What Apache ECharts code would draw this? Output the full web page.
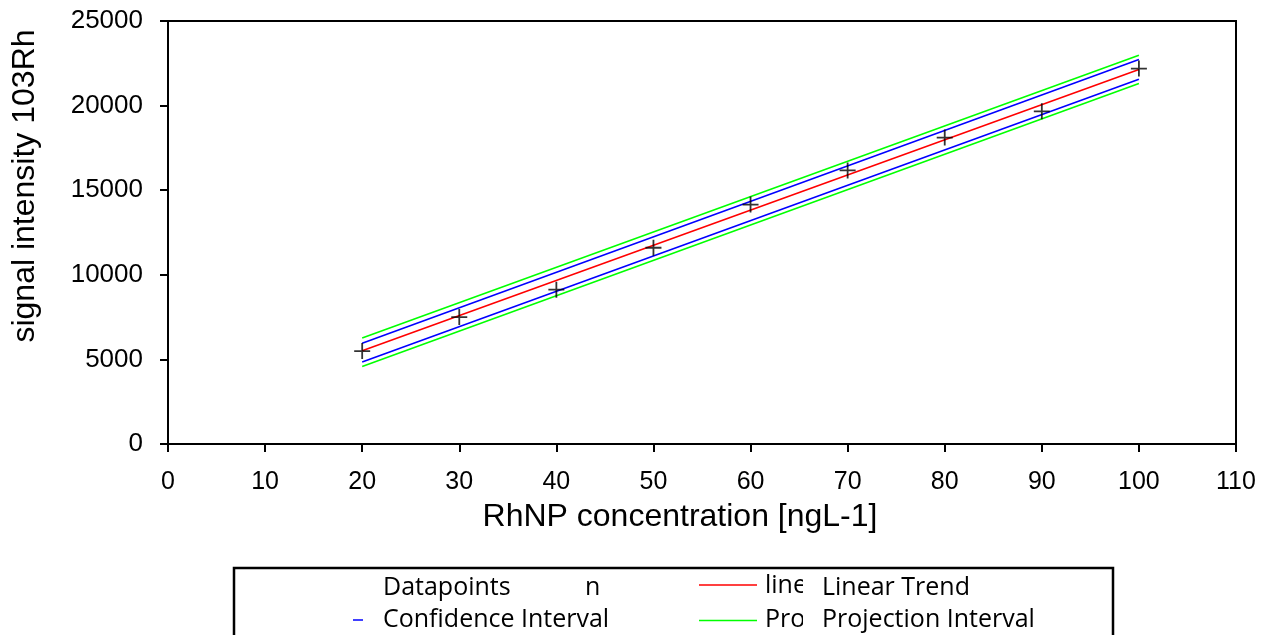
<!DOCTYPE html>
<html>
<head>
<meta charset="utf-8">
<script src="https://cdn.jsdelivr.net/npm/echarts@6/dist/echarts.min.js"></script>
<style>
html,body{margin:0;padding:0;background:#fff;}
#chart{width:1261px;height:635px;}
</style>
</head>
<body>
<div id="chart"></div>
<script>
// ---- data ----
const concentrations = [20, 30, 40, 50, 60, 70, 80, 90, 100];
const signalValues   = [5490, 7500, 9120, 11600, 14150, 16170, 18110, 19660, 22190];
const lineX          = [20, 100];
const linearTrend    = [5510, 22130];
const confUpper      = [5960, 22720];
const confLower      = [4840, 21555];
const projUpper      = [6260, 22975];
const projLower      = [4585, 21300];
const xTickMin = 0, xTickMax = 110, xTickStep = 10;
const yTickMin = 0, yTickMax = 25000, yTickStep = 5000;
const xTitle = 'RhNP concentration [ngL-1]';
const yTitle = 'signal intensity 103Rh';
const legendLabels = ['Datapoints', 'Linear Trend', 'Confidence Interval', 'Projection Interval'];

const pairs = (xs, ys) => xs.map((x, i) => [x, ys[i]]);
const chart = echarts.init(document.getElementById('chart'), null, {renderer: 'canvas'});
const FONT = 'Liberation Sans, Arial, sans-serif';
const LFONT = 'Open Sans, Noto Sans, sans-serif';

function lineSeries(name, ys, color) {
  return {
    name: name, type: 'line', data: pairs(lineX, ys), symbol: 'none',
    lineStyle: {color: color, width: 1.6}, silent: true, animation: false
  };
}

const option = {
  animation: false,
  backgroundColor: '#fff',
  grid: {left: 168, right: 25, top: 21, bottom: 191, show: true, borderColor: '#000', borderWidth: 2, backgroundColor: 'transparent'},
  xAxis: {
    type: 'value', min: xTickMin, max: xTickMax, interval: xTickStep,
    axisLine: {show: true, lineStyle: {color: '#000', width: 2}},
    axisTick: {show: true, inside: false, length: 8, lineStyle: {color: '#000', width: 2}},
    axisLabel: {color: '#000', fontSize: 25, fontFamily: FONT, margin: 26, formatter: v => String(v)},
    splitLine: {show: false}
  },
  yAxis: {
    type: 'value', min: yTickMin, max: yTickMax, interval: yTickStep,
    axisLine: {show: true, lineStyle: {color: '#000', width: 2}},
    axisTick: {show: true, inside: false, length: 8, lineStyle: {color: '#000', width: 2}},
    axisLabel: {color: '#000', fontSize: 26, fontFamily: FONT, margin: 25, formatter: v => String(v)},
    splitLine: {show: false}
  },
  series: [
    lineSeries('Projection Interval', projUpper, '#00ff00'),
    lineSeries('Projection Interval', projLower, '#00ff00'),
    lineSeries('Confidence Interval', confUpper, '#0000ff'),
    lineSeries('Confidence Interval', confLower, '#0000ff'),
    lineSeries('Linear Trend', linearTrend, '#ff0000'),
    {
      name: 'Datapoints', type: 'scatter', data: pairs(concentrations, signalValues),
      symbol: 'path://M0,8 L16,8 M8,0 L8,16', symbolSize: 16,
      itemStyle: {color: 'none', borderColor: '#000', borderWidth: 1.8},
      z: 5
    }
  ],
  graphic: [
    {type: 'text', x: 680, y: 517, style: {text: xTitle, font: '32px ' + FONT, fill: '#000', align: 'center', verticalAlign: 'middle'}},
    {type: 'text', x: 25, y: 186, rotation: Math.PI / 2, style: {text: yTitle, font: '32px ' + FONT, fill: '#000', align: 'center', verticalAlign: 'middle'}},
    // legend box
    {type: 'rect', shape: {x: 234, y: 568, width: 879, height: 100}, style: {fill: '#fff', stroke: '#000', lineWidth: 2.5}},
    {type: 'text', x: 383, y: 588, style: {text: legendLabels[0], font: '25px ' + LFONT, fill: '#000', verticalAlign: 'middle'}},
    {type: 'text', x: 585, y: 588, style: {text: 'n', font: '25px ' + LFONT, fill: '#000', verticalAlign: 'middle'}},
    {type: 'line', shape: {x1: 699, y1: 585, x2: 757, y2: 585}, style: {stroke: '#ff0000', lineWidth: 1.5}},
    {type: 'text', x: 765, y: 586, style: {text: 'line', font: '25px ' + LFONT, fill: '#000', verticalAlign: 'middle'}},
    {type: 'text', x: 765, y: 620, style: {text: 'Pro', font: '25px ' + LFONT, fill: '#000', verticalAlign: 'middle'}},
    {type: 'rect', shape: {x: 803, y: 572, width: 18, height: 62}, style: {fill: '#fff'}},
    {type: 'text', x: 822, y: 588, style: {text: legendLabels[1], font: '25px ' + LFONT, fill: '#000', verticalAlign: 'middle'}},
    {type: 'line', shape: {x1: 353, y1: 620, x2: 363, y2: 620}, style: {stroke: '#0000ff', lineWidth: 1.5}},
    {type: 'text', x: 383, y: 620, style: {text: legendLabels[2], font: '25px ' + LFONT, fill: '#000', verticalAlign: 'middle'}},
    {type: 'line', shape: {x1: 699, y1: 620.5, x2: 757, y2: 620.5}, style: {stroke: '#00ff00', lineWidth: 1.5}},
    {type: 'text', x: 822, y: 620, style: {text: legendLabels[3], font: '25px ' + LFONT, fill: '#000', verticalAlign: 'middle'}}
  ]
};
chart.setOption(option);
</script>
</body>
</html>
